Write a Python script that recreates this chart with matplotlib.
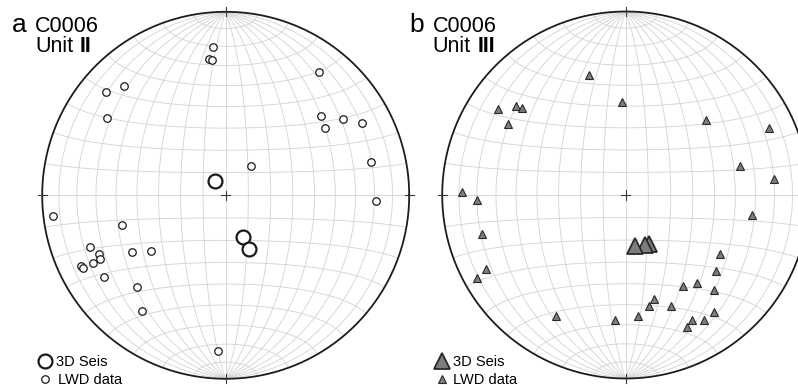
#!/usr/bin/env python
"""
Two lower-hemisphere equal-area (Schmidt) stereonets for site C0006:
poles from 3D seismic and LWD data, Unit II (open circles) and Unit III (triangles).
"""

import numpy as np
import matplotlib
matplotlib.use("Agg")
import matplotlib.pyplot as plt

# Unit II poles (trend / plunge, degrees)
unit2_lwd_trend = [355, 353, 354, 317, 311, 303, 37, 50, 57, 56, 62, 77, 41, 92,
                   263, 254, 249, 245, 243, 243, 244, 243, 236, 239, 233, 224, 216, 183]
unit2_lwd_plunge = [20, 26, 27, 20, 15, 24, 17, 33, 25, 35, 17, 20, 73, 19,
                    6, 41, 22, 25, 24, 20, 13, 14, 21, 40, 48, 31, 23, 16]
unit2_seis_trend = [323, 158, 157]
unit2_seis_plunge = [82, 70, 64]

# Unit III poles (trend / plunge, degrees)
unit3_lwd_trend = [343, 358, 304, 309, 310, 301, 271, 268, 255, 242, 241, 210, 185, 174,
                   47, 65, 76, 84, 99, 122, 130, 141, 148, 137, 165, 168, 158, 152, 148, 143, 155]
unit3_lwd_plunge = [32, 48, 17, 24, 27, 26, 12, 20, 20, 15, 8, 25, 32, 34,
                    40, 15, 36, 20, 31, 39, 36, 38, 41, 30, 41, 38, 35, 24, 21, 21, 22]
unit3_seis_trend = [155, 159, 170]
unit3_seis_plunge = [66, 66, 67]

site = "C0006"
panel_letters = ["a", "b"]
unit_names = ["II", "III"]
legend_labels = ["3D Seis", "LWD data"]

W, H = 798, 388
R_PX = 183.5
GRID = "#d2d2d2"
EDGE = "#1c1c1c"
FONT = "Liberation Sans"


def net_xy(lon, lat):
    """Equatorial Lambert equal-area projection, unit primitive circle."""
    lon = np.radians(lon)
    lat = np.radians(lat)
    k = 1.0 / np.sqrt(1.0 + np.cos(lat) * np.cos(lon))
    return k * np.cos(lat) * np.sin(lon), k * np.sin(lat)


def pole_xy(trend, plunge):
    """Lower-hemisphere equal-area position of a line (trend, plunge)."""
    t = np.radians(np.asarray(trend, float))
    p = np.radians(np.asarray(plunge, float))
    r = np.sqrt(2.0) * np.sin((np.pi / 2 - p) / 2)
    return r * np.sin(t), r * np.cos(t)


def draw_net(ax):
    t = np.linspace(-90, 90, 361)
    for lon in range(-80, 90, 10):
        x, y = net_xy(np.full_like(t, lon), t)
        ax.plot(x, y, color=GRID, lw=0.6, zorder=1)
    for lat in range(-80, 90, 10):
        x, y = net_xy(t, np.full_like(t, lat))
        ax.plot(x, y, color=GRID, lw=0.6, zorder=1)
    a = np.linspace(0, 2 * np.pi, 720)
    ax.plot(np.cos(a), np.sin(a), color=EDGE, lw=1.3, zorder=2)
    d = 0.025
    tk = dict(color="#3a3a3a", lw=0.8, zorder=3)
    ax.plot([-d, d], [0, 0], **tk)
    ax.plot([0, 0], [-d, d], **tk)
    for sx, sy in [(0, 1), (0, -1), (1, 0), (-1, 0)]:
        ax.plot([sx * (1 - d), sx * (1 + d)] if sx else [0, 0],
                [sy * (1 - d), sy * (1 + d)] if sy else [0, 0], **tk)


def make_axes(fig, cx, cy, x0, x1):
    """Axes spanning pixel columns x0..x1 with the net centred on (cx, cy)."""
    ax = fig.add_axes([x0 / W, 0, (x1 - x0) / W, 1])
    ax.set_xlim((x0 - cx) / R_PX, (x1 - cx) / R_PX)
    ax.set_ylim(-(H - cy) / R_PX, cy / R_PX)
    ax.axis("off")
    return ax


def fx(x):
    return x / W


def fy(y):
    return 1 - y / H


def main():
    fig = plt.figure(figsize=(W / 100, H / 100), dpi=100)

    ax1 = make_axes(fig, 225.7, 195.3, 0, 420)
    ax2 = make_axes(fig, 625.7, 195.0, 420, 798)

    circ_small = dict(marker="o", ms=5.4, mfc="white", mec="#1a1a1a", mew=0.9, ls="none")
    circ_big = dict(marker="o", ms=10, mfc="white", mec="#1a1a1a", mew=1.6, ls="none")
    tri_small = dict(marker="^", ms=6.2, mfc="#7d7d7d", mec="#2a2a2a", mew=0.8, ls="none")
    tri_big = dict(marker="^", ms=12, mfc="#7d7d7d", mec="#2a2a2a", mew=1.3, ls="none")

    # Unit II
    draw_net(ax1)
    x, y = pole_xy(unit2_lwd_trend, unit2_lwd_plunge)
    ax1.plot(x, y, zorder=4, **circ_small)
    for t, p in zip(unit2_seis_trend, unit2_seis_plunge):
        x, y = pole_xy(t, p)
        ax1.plot(x, y, zorder=5, **circ_big)

    # Unit III
    draw_net(ax2)
    x, y = pole_xy(unit3_lwd_trend, unit3_lwd_plunge)
    ax2.plot(x, y, zorder=4, **tri_small)
    for t, p in zip(unit3_seis_trend, unit3_seis_plunge):
        x, y = pole_xy(t, p)
        ax2.plot(x, y, zorder=5, **tri_big)

    # Panel headings
    for i, x0 in enumerate([12.0, 409.5]):
        fig.text(fx(x0), fy(31.7), panel_letters[i], fontsize=19, family=FONT,
                 va="baseline", ha="left")
        fig.text(fx(x0 + 23), fy(31.7), site, fontsize=15.5, family=FONT,
                 va="baseline", ha="left")
        fig.text(fx(x0 + 23), fy(52), "Unit", fontsize=15.5, family=FONT,
                 va="baseline", ha="left")
        fig.text(fx(x0 + 68), fy(52), unit_names[i], fontsize=15.5, family=FONT,
                 fontweight="bold", va="baseline", ha="left")

    # Legends
    lg = dict(transform=fig.transFigure, clip_on=False, zorder=6)
    ax1.plot([fx(45)], [fy(361)], **circ_big, **lg)
    ax1.plot([fx(44.5)], [fy(379)], **circ_small, **lg)
    ax2.plot([fx(441.7)], [fy(360.5)], **tri_big, **lg)
    ax2.plot([fx(442.3)], [fy(379)], **tri_small, **lg)
    for x0, x1 in [(55.5, 58), (453, 453)]:
        fig.text(fx(x0), fy(366), legend_labels[0], fontsize=10.5, family=FONT,
                 va="baseline", ha="left")
        fig.text(fx(x1), fy(384), legend_labels[1], fontsize=10.5, family=FONT,
                 va="baseline", ha="left")

    fig.savefig("out.png", dpi=100)
    plt.close(fig)


if __name__ == "__main__":
    main()
